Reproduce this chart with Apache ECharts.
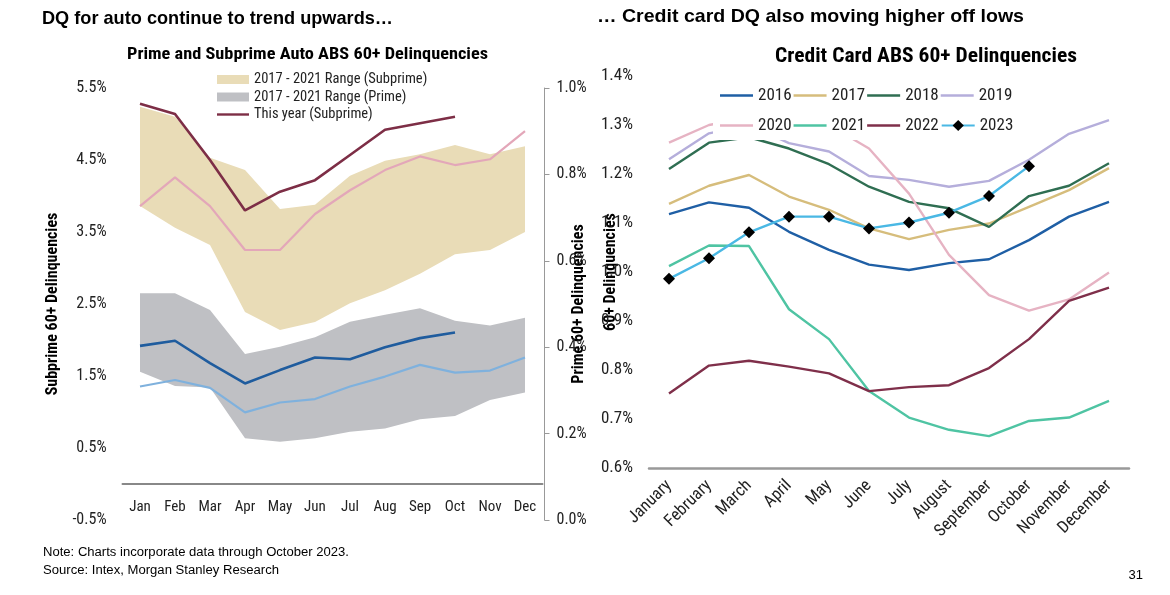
<!DOCTYPE html>
<html><head><meta charset="utf-8">
<script src="https://cdn.jsdelivr.net/npm/echarts@6/dist/echarts.min.js"></script>
<style>html,body{margin:0;padding:0;background:#fff}#c{width:1170px;height:595px}</style>
</head><body><div id="c"></div>
<script>
// ---------- Left chart data (Auto ABS 60+ delinquencies) ----------
const autoMonths = ['Jan','Feb','Mar','Apr','May','Jun','Jul','Aug','Sep','Oct','Nov','Dec'];
const subRangeUpper = [5.24,5.10,4.53,4.36,3.82,3.88,4.28,4.49,4.58,4.71,4.58,4.69];
const subRangeLower = [3.86,3.56,3.32,2.39,2.14,2.25,2.51,2.69,2.92,3.19,3.25,3.50];
const subThisYear   = [5.28,5.14,4.50,3.80,4.06,4.22,4.57,4.92,5.01,5.10];
const subLastYear   = [3.86,4.26,3.86,3.25,3.25,3.75,4.08,4.36,4.55,4.43,4.51,4.90];
const primeRangeUpper = [0.525,0.525,0.486,0.384,0.401,0.423,0.459,0.475,0.490,0.461,0.450,0.468];
const primeRangeLower = [0.343,0.310,0.307,0.189,0.181,0.189,0.204,0.212,0.233,0.241,0.278,0.295];
const primeThisYear   = [0.403,0.415,0.363,0.316,0.347,0.376,0.372,0.400,0.421,0.434];
const primeLastYear   = [0.309,0.324,0.306,0.249,0.272,0.280,0.309,0.332,0.359,0.341,0.346,0.376];

// ---------- Right chart data (Credit card ABS 60+ delinquencies) ----------
const cardMonths = ['January','February','March','April','May','June','July','August','September','October','November','December'];
const cardYears = ['2016','2017','2018','2019','2020','2021','2022','2023'];
const cc2016 = [1.118,1.142,1.131,1.082,1.045,1.015,1.004,1.018,1.026,1.065,1.113,1.143];
const cc2017 = [1.139,1.176,1.198,1.154,1.127,1.089,1.067,1.086,1.099,1.133,1.167,1.212];
const cc2018 = [1.210,1.264,1.275,1.252,1.220,1.174,1.143,1.130,1.092,1.155,1.176,1.222];
const cc2019 = [1.230,1.283,1.300,1.263,1.246,1.196,1.188,1.174,1.186,1.229,1.282,1.310];
const cc2020 = [1.264,1.300,1.315,1.312,1.300,1.252,1.160,1.035,0.953,0.921,0.944,0.999];
const cc2021 = [1.012,1.054,1.053,0.924,0.863,0.757,0.703,0.678,0.665,0.696,0.703,0.737];
const cc2022 = [0.752,0.809,0.819,0.807,0.793,0.757,0.765,0.769,0.804,0.863,0.941,0.968];
const cc2023 = [0.986,1.028,1.081,1.113,1.113,1.089,1.101,1.121,1.155,1.216];

// ---------- Text ----------
const heading1 = 'DQ for auto continue to trend upwards…';
const heading2 = '… Credit card DQ also moving higher off lows';
const titleLeft = 'Prime and Subprime Auto ABS 60+ Delinquencies';
const titleRight = 'Credit Card ABS 60+ Delinquencies';
const note1 = 'Note: Charts incorporate data through October 2023.';
const note2 = 'Source: Intex, Morgan Stanley Research';
const pageNo = '31';

const CF = '"Roboto Condensed","Liberation Sans Narrow",Roboto,sans-serif';
const AR = '"Liberation Sans",Arial,sans-serif';

const cardColors = ['#1f5fa5','#d6bd7c','#2f6e52','#b5aedb','#e6b3c3','#4fc4a3','#7f2f4a','#4ab8e4'];
const cardData = [cc2016,cc2017,cc2018,cc2019,cc2020,cc2021,cc2022,cc2023];

// thin-line legend icons (bounding box padded with zero-length moves)
const lineIconLeft = 'path://M0,0L0,0M0,3.3L32,3.3L32,5.7L0,5.7ZM32,9L32,9';
const lineIconRight = 'path://M0,0L0,0M0,5.8L33,5.8L33,8.2L0,8.2ZM33,14L33,14';

const measureCtx = document.createElement('canvas').getContext('2d');
function fitText(text, x, y, font, targetW, align, color) {
  measureCtx.font = font;
  const w = measureCtx.measureText(text).width;
  const s = targetW ? targetW / w : 1;
  return {type:'text', x:x, y:y, scaleX:s, silent:true,
    style:{text:text, font:font, fill:color||'#000', align:align||'left', verticalAlign:'middle'}};
}

const subDiff = subRangeUpper.map((u,i)=>+(u-subRangeLower[i]).toFixed(4));
const primeDiff = primeRangeUpper.map((u,i)=>+(u-primeRangeLower[i]).toFixed(4));

const lineBase = {type:'line', symbol:'none', showSymbol:false, emphasis:{disabled:true}, silent:true};

const series = [
  Object.assign({}, lineBase, {name:'subLow', xAxisIndex:0, yAxisIndex:0, stack:'sub', data:subRangeLower, lineStyle:{opacity:0}}),
  Object.assign({}, lineBase, {name:'2017 - 2021 Range (Subprime)', xAxisIndex:0, yAxisIndex:0, stack:'sub', data:subDiff,
    itemStyle:{color:'#e9dcb7'}, lineStyle:{opacity:0, width:0}, areaStyle:{color:'#e9dcb7', opacity:1}}),
  Object.assign({}, lineBase, {name:'primeLow', xAxisIndex:0, yAxisIndex:1, stack:'prime', data:primeRangeLower, lineStyle:{opacity:0}}),
  Object.assign({}, lineBase, {name:'2017 - 2021 Range (Prime)', xAxisIndex:0, yAxisIndex:1, stack:'prime', data:primeDiff,
    itemStyle:{color:'#bfc0c4'}, lineStyle:{opacity:0, width:0}, areaStyle:{color:'#bfc0c4', opacity:1}}),
  Object.assign({}, lineBase, {name:'Last year (Subprime)', xAxisIndex:0, yAxisIndex:0, data:subLastYear,
    itemStyle:{color:'#e3a7b9'}, lineStyle:{color:'#e3a7b9', width:2.2}}),
  Object.assign({}, lineBase, {name:'Last year (Prime)', xAxisIndex:0, yAxisIndex:1, data:primeLastYear,
    itemStyle:{color:'#7fb1dd'}, lineStyle:{color:'#7fb1dd', width:2.2}}),
  Object.assign({}, lineBase, {name:'This year (Prime)', xAxisIndex:0, yAxisIndex:1, data:primeThisYear,
    itemStyle:{color:'#1f5c9e'}, lineStyle:{color:'#1f5c9e', width:2.6}}),
  Object.assign({}, lineBase, {name:'This year (Subprime)', xAxisIndex:0, yAxisIndex:0, data:subThisYear,
    itemStyle:{color:'#7d2e46'}, lineStyle:{color:'#7d2e46', width:2.6}})
];

cardYears.forEach((yr,i)=>{
  const s = Object.assign({}, lineBase, {name:yr, xAxisIndex:1, yAxisIndex:2, data:cardData[i],
    itemStyle:{color:cardColors[i]}, lineStyle:{color:cardColors[i], width:2.4}});
  if (yr === '2023') {
    s.symbol = 'diamond'; s.showSymbol = true; s.symbolSize = 12;
    s.itemStyle = {color:'#000'}; s.z = 5;
  }
  series.push(s);
});

const rightLegendData = cardYears.map(y => y === '2023' ? {name:y} : {name:y, icon:lineIconRight});

const option = {
  animation:false,
  backgroundColor:'#fff',
  textStyle:{fontFamily:CF},
  grid:[
    {left:122.5, width:420, top:88, height:432},
    {left:649, width:480, top:76, height:392}
  ],
  xAxis:[
    {type:'category', gridIndex:0, data:autoMonths, boundaryGap:true,
      axisLine:{onZero:true, lineStyle:{color:'#888', width:2}}, axisTick:{show:false},
      axisLabel:{color:'#222', fontSize:15, fontFamily:CF, margin:-20}},
    {type:'category', gridIndex:1, data:cardMonths, boundaryGap:true,
      axisLine:{lineStyle:{color:'#999', width:2.5}}, axisTick:{show:false},
      axisLabel:{color:'#222', fontSize:17, fontFamily:CF, rotate:45, margin:15, interval:0}}
  ],
  yAxis:[
    {type:'value', gridIndex:0, min:-0.5, max:5.5, interval:0.5, position:'left',
      axisLine:{show:false}, axisTick:{show:false}, splitLine:{show:false},
      axisLabel:{color:'#222', fontSize:16, fontFamily:CF, margin:16,
        formatter:v=> (Math.round(v*2)%2!==0) ? v.toFixed(1)+'%' : ''},
      name:'Subprime 60+ Delinquencies', nameLocation:'middle', nameRotate:90, nameGap:62, nameMoveOverlap:false,
      nameTextStyle:{fontWeight:'bold', fontSize:16, color:'#000', fontFamily:CF}},
    {type:'value', gridIndex:0, min:0, max:1, interval:0.2, position:'right', offset:2,
      axisLine:{show:true, lineStyle:{color:'#999', width:1}}, axisTick:{show:true, length:5, lineStyle:{color:'#999'}},
      splitLine:{show:false},
      axisLabel:{color:'#222', fontSize:16, fontFamily:CF, margin:12, formatter:v=>v.toFixed(1)+'%'},
      name:'Prime 60+ Delinquencies', nameLocation:'middle', nameRotate:90, nameGap:26, nameMoveOverlap:false,
      nameTextStyle:{fontWeight:'bold', fontSize:16, color:'#000', fontFamily:CF}},
    {type:'value', gridIndex:1, min:0.6, max:1.4, interval:0.1, position:'left',
      axisLine:{show:false}, axisTick:{show:false}, splitLine:{show:false},
      axisLabel:{color:'#222', fontSize:17, fontFamily:CF, margin:16, formatter:v=>v.toFixed(1)+'%'},
      name:'60+ Delinquencies', nameLocation:'middle', nameRotate:90, nameGap:30, nameMoveOverlap:false,
      nameTextStyle:{fontWeight:'bold', fontSize:16, color:'#000', fontFamily:CF}}
  ],
  legend:[
    {orient:'vertical', left:217, top:72, padding:0, itemWidth:32, itemHeight:9, itemGap:2.5,
      textStyle:{fontSize:14.5, color:'#222', fontFamily:CF, lineHeight:13}, selectedMode:false,
      data:[{name:'2017 - 2021 Range (Subprime)', icon:'rect'},{name:'2017 - 2021 Range (Prime)', icon:'rect'},{name:'This year (Subprime)', icon:lineIconLeft}]},
    {orient:'horizontal', left:713, top:81, padding:[6,7,6,7], itemWidth:33, itemHeight:14, itemGap:2,
      backgroundColor:'#fff', textStyle:{fontSize:17, color:'#222', fontFamily:CF}, selectedMode:false,
      data:rightLegendData.slice(0,4)},
    {orient:'horizontal', left:713, top:111, padding:[6,7,6,7], itemWidth:33, itemHeight:14, itemGap:2,
      backgroundColor:'#fff', textStyle:{fontSize:17, color:'#222', fontFamily:CF}, selectedMode:false,
      data:rightLegendData.slice(4)}
  ],
  graphic:[
    fitText(heading1, 42, 19, 'bold 19px '+AR, 351, 'left'),
    fitText(heading2, 597, 17, 'bold 19px '+AR, 427, 'left'),
    fitText(titleLeft, 307.5, 55, 'bold 17px '+CF, 361, 'center'),
    fitText(titleRight, 926, 57, 'bold 21px '+CF, 302, 'center'),
    fitText(note1, 43, 553, '12px '+AR, 306, 'left'),
    fitText(note2, 43, 571, '12px '+AR, 236, 'left'),
    fitText(pageNo, 1143, 575, '13px '+AR, null, 'right')
  ],
  series:series
};
echarts.init(document.getElementById('c')).setOption(option);
</script></body></html>
